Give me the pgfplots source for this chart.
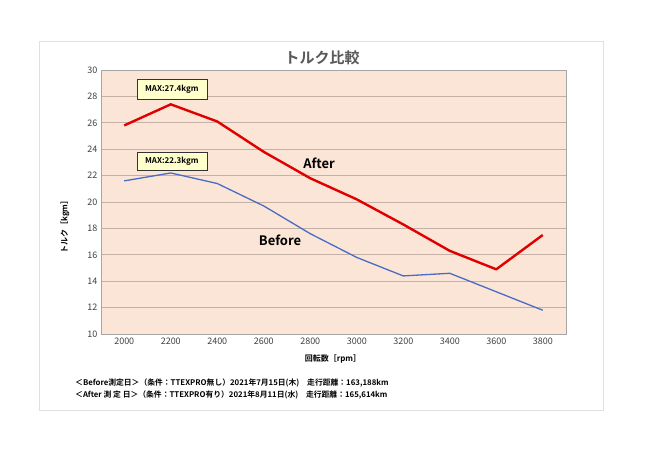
\documentclass[border=0pt]{standalone}
\usepackage{fontspec}
\usepackage{pgfplots}
\pgfplotsset{compat=1.18}
\setmainfont{Noto Sans CJK JP}[BoldFont={Noto Sans CJK JP Bold}]
\definecolor{bgc}{HTML}{FBE5D6}
\definecolor{gridc}{HTML}{C4B0A4}
\definecolor{redl}{HTML}{E00000}
\definecolor{bluel}{HTML}{4A6CC4}
\definecolor{boxc}{HTML}{FFFFCC}
\definecolor{titc}{HTML}{595959}
\begin{document}
\begin{tikzpicture}[x=1pt,y=1pt]
\fill[white] (0,0) rectangle (650,-460);
\draw[black!12, line width=1pt] (39,-42) rectangle (603,-410);
\begin{axis}[at={(101pt,-334pt)}, anchor=south west,
  width=465pt, height=264pt, scale only axis,
  xmin=1900, xmax=3900, ymin=10, ymax=30,
  xtick={2000,2200,...,3800}, ytick={10,12,...,30},
  ymajorgrids, grid style={draw=gridc, line width=0.8pt},
  axis background/.style={fill=bgc},
  axis line style={draw=black!35, line width=0.8pt},
  major tick length=0pt,
  ticklabel style={font=\fontsize{9}{10}\selectfont, text=black!75},
  /pgf/number format/assume math mode=true,
  /pgf/number format/1000 sep={},
  clip=false]
\addplot[redl, line width=2.4pt, line join=round] coordinates {
 (2000,25.8) (2200,27.4) (2400,26.1) (2600,23.8) (2800,21.8)
 (3000,20.2) (3200,18.3) (3400,16.3) (3600,14.9) (3800,17.5)};
\addplot[bluel, line width=1.3pt, line join=round] coordinates {
 (2000,21.6) (2200,22.2) (2400,21.4) (2600,19.7) (2800,17.6)
 (3000,15.8) (3200,14.4) (3400,14.6) (3600,13.2) (3800,11.8)};
\node[draw=black!80, line width=0.8pt, fill=boxc, font=\fontsize{8}{9}\selectfont\bfseries, minimum width=70pt, minimum height=20pt, inner sep=1pt] at (axis cs:2205,28.56) {MAX:27.4kgm};
\node[draw=black!80, line width=0.8pt, fill=boxc, font=\fontsize{8}{9}\selectfont\bfseries, minimum width=70pt, minimum height=18pt, inner sep=1pt] at (axis cs:2205,23.1) {MAX:22.3kgm};
\node[font=\fontsize{13}{14}\selectfont\bfseries] at (axis cs:2838,22.95) {After};
\node[font=\fontsize{13}{14}\selectfont\bfseries] at (axis cs:2670,17.12) {Before};
\end{axis}
\node[text=titc, font=\fontsize{15}{16}\selectfont\bfseries] at (322,-58) {トルク比較};
\node[font=\fontsize{8}{9}\selectfont\bfseries] at (333,-359) {回転数［rpm］};
\node[rotate=90, font=\fontsize{8}{9}\selectfont\bfseries] at (65,-225) {トルク［kgm］};
\node[anchor=west, inner sep=0pt, font=\fontsize{7.8}{8}\selectfont\bfseries] at (75,-383) {＜Before測定日＞（条件：TTEXPRO無し）2021年7月15日(木)\quad 走行距離：163,188km};
\node[anchor=west, inner sep=0pt, font=\fontsize{7.8}{8}\selectfont\bfseries] at (75,-395) {＜After 測 定 日＞（条件：TTEXPRO有り）2021年8月11日(水)\quad 走行距離：165,614km};
\end{tikzpicture}
\end{document}
